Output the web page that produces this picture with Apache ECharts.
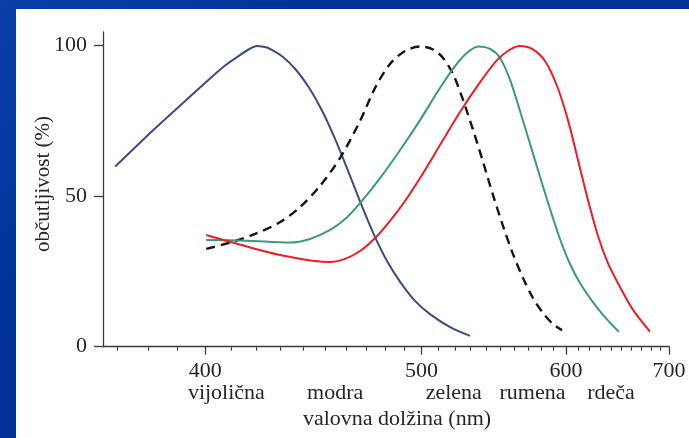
<!DOCTYPE html>
<html>
<head>
<meta charset="utf-8">
<script src="https://cdn.jsdelivr.net/npm/echarts@6/dist/echarts.min.js"></script>
<style>
  html, body { margin: 0; padding: 0; }
  body { width: 689px; height: 438px; background: linear-gradient(135deg, #0a3ea8 0%, #003399 30%, #003399 100%); position: relative; overflow: hidden; }
  #panel { position: absolute; left: 16px; top: 9px; right: 0; bottom: 0; background: #ffffff; }
  #chart { position: absolute; left: 0; top: 0; width: 689px; height: 438px; }
</style>
</head>
<body>
<div id="panel"></div>
<div id="chart"></div>
<script>
// ---- data (wavelength in nm, sensitivity in %) ----
const blueNm  = [369.3, 382.9, 394.5, 406.9, 413.4, 416.7, 420.0, 423.3, 425.5, 431.0, 436.7, 442.5, 448.5, 454.6, 460.9, 467.3, 474.0, 480.8, 487.9, 496.2, 504.9, 517.0, 529.6];
const blueVal = [59.7, 72.9, 82.9, 92.8, 96.7, 98.5, 99.7, 99.3, 98.7, 96.0, 91.7, 85.8, 78.1, 68.8, 58.2, 47.3, 37.0, 28.4, 21.5, 15.2, 10.8, 6.5, 3.6];

const rodNm  = [400.4, 409.4, 419.4, 429.8, 438.5, 447.5, 457.0, 466.8, 474.5, 482.4, 490.6, 499.1, 506.7, 512.7, 518.8, 525.1, 531.6, 538.2, 544.9, 551.9, 559.0, 566.3, 573.8, 581.5, 589.5, 596.8];
const rodVal = [32.4, 34.5, 37.4, 41.3, 46.3, 53.3, 62.6, 74.8, 85.8, 93.7, 98.0, 99.5, 98.5, 95.7, 90.4, 81.8, 71.8, 61.2, 50.3, 40.0, 30.7, 22.8, 16.1, 11.2, 7.5, 5.5];

const greenNm  = [400.4, 416.0, 434.1, 442.9, 452.2, 459.4, 466.8, 477.1, 487.9, 499.1, 510.9, 520.1, 527.7, 534.9, 542.9, 549.8, 556.9, 564.1, 571.6, 579.2, 587.1, 595.1, 603.4, 611.9, 622.5, 634.3, 647.6];
const greenVal = [35.4, 35.1, 34.5, 35.7, 38.7, 42.3, 47.6, 55.9, 65.2, 75.1, 85.8, 93.0, 97.4, 99.5, 98.7, 95.7, 88.4, 78.1, 67.2, 56.3, 45.6, 35.7, 27.4, 21.1, 15.2, 9.8, 4.9];

const redNm  = [400.4, 416.0, 429.8, 447.5, 452.2, 459.4, 466.8, 474.5, 482.4, 490.6, 499.1, 510.9, 523.2, 536.2, 547.7, 556.9, 564.1, 573.1, 583.1, 592.7, 601.7, 610.2, 618.9, 627.9, 637.1, 648.6, 661.5, 679.1];
const redVal = [37.0, 33.2, 30.4, 28.2, 28.1, 29.1, 31.7, 36.0, 41.7, 48.3, 55.9, 66.9, 77.8, 87.7, 95.0, 98.5, 99.7, 98.7, 94.7, 86.4, 75.1, 61.9, 48.6, 36.7, 27.7, 19.8, 12.2, 5.0];

// ---- axis ticks / labels ----
const xMajorNm = [400, 500, 600, 700];
const xMinorNm = [370, 380, 390, 410, 420, 430, 440, 450, 460, 470, 480, 490,
                  510, 520, 530, 540, 550, 560, 570, 580, 590,
                  610, 620, 630, 640, 650, 660, 670, 680, 690];
const xRangeNm = [365.5, 700];
const yTicks = [0, 50, 100];
const yRange = [0, 104.3];
const colorNames = ['vijolična', 'modra', 'zelena', 'rumena', 'rdeča'];
const colorNamePosNm = [408, 454.6, 519.3, 573.4, 640];
const xTitle = 'valovna dolžina (nm)';
const yTitle = 'občutljivost (%)';

// reciprocal-wavelength (frequency-like) scale
const toX = nm => -1000 / nm;
const fromX = v => -1000 / v;
const pairs = (xs, ys) => xs.map((nm, i) => [toX(nm), ys[i]]);

const FONT = 'Liberation Serif';
const TXT = '#262626';
const AX = '#3a3a3a';

const baseX = {
  type: 'value', position: 'bottom',
  min: toX(xRangeNm[0]), max: toX(xRangeNm[1]),
  splitLine: { show: false }, axisLine: { show: false },
  axisTick: { show: false }, axisLabel: { show: false }
};

const chart = echarts.init(document.getElementById('chart'), null, { renderer: 'canvas' });
chart.setOption({
  backgroundColor: 'transparent',
  animation: false,
  grid: { left: 103, right: 20, top: 32, bottom: 91.3, containLabel: false },
  xAxis: [
    Object.assign({}, baseX, {
      axisLine: { show: true, onZero: false, lineStyle: { color: AX, width: 1.3 } },
      axisTick: { show: true, length: 8, customValues: xMajorNm.map(toX), lineStyle: { color: AX, width: 1.3 } },
      axisLabel: {
        show: true, margin: 14, customValues: xMajorNm.map(toX),
        formatter: v => String(Math.round(fromX(v))),
        fontFamily: FONT, fontSize: 22, color: TXT
      }
    }),
    Object.assign({}, baseX, {
      axisTick: { show: true, length: 4, customValues: xMinorNm.map(toX), lineStyle: { color: AX, width: 1 } }
    }),
    Object.assign({}, baseX, {
      axisLabel: {
        show: true, margin: 36, customValues: colorNamePosNm.map(toX),
        formatter: v => {
          const i = colorNamePosNm.findIndex(nm => Math.abs(toX(nm) - v) < 1e-9);
          return i >= 0 ? colorNames[i] : '';
        },
        fontFamily: FONT, fontSize: 22, color: TXT
      }
    })
  ],
  yAxis: {
    type: 'value', min: yRange[0], max: yRange[1],
    splitLine: { show: false },
    axisLine: { show: true, lineStyle: { color: AX, width: 1.3 } },
    axisTick: { show: true, length: 9, customValues: yTicks, lineStyle: { color: AX, width: 1.3 } },
    axisLabel: { show: true, margin: 16, customValues: yTicks, fontFamily: FONT, fontSize: 22, color: TXT }
  },
  graphic: [
    { type: 'text', x: 397, y: 408, style: { text: xTitle, fontFamily: FONT, fontSize: 22, fill: TXT, align: 'center', verticalAlign: 'top' } },
    { type: 'text', x: 43, y: 184, rotation: Math.PI / 2, style: { text: yTitle, fontFamily: FONT, fontSize: 21, fill: TXT, align: 'center', verticalAlign: 'middle' } }
  ],
  series: [
    { type: 'line', name: 'S', data: pairs(blueNm, blueVal), smooth: 0.3, showSymbol: false,
      lineStyle: { color: '#3b4c82', width: 2 } },
    { type: 'line', name: 'rod', data: pairs(rodNm, rodVal), smooth: 0.3, showSymbol: false,
      lineStyle: { color: '#151515', width: 2.4, type: [9, 6] } },
    { type: 'line', name: 'M', data: pairs(greenNm, greenVal), smooth: 0.3, showSymbol: false,
      lineStyle: { color: '#3c9a7a', width: 2 } },
    { type: 'line', name: 'L', data: pairs(redNm, redVal), smooth: 0.3, showSymbol: false,
      lineStyle: { color: '#ee1c24', width: 2 } }
  ]
});
</script>
</body>
</html>
